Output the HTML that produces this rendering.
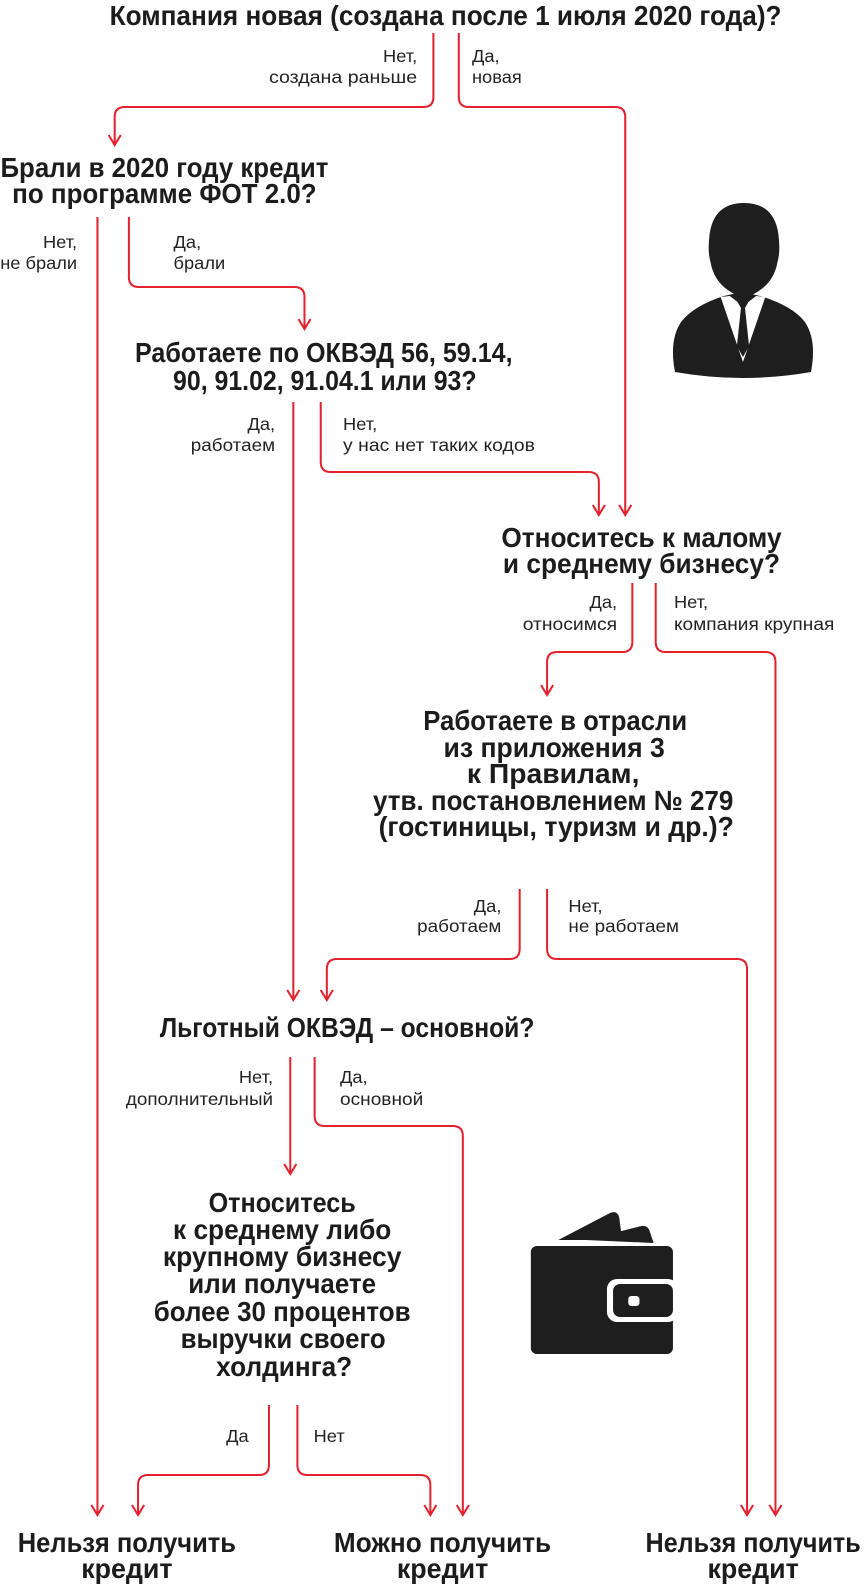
<!DOCTYPE html>
<html><head><meta charset="utf-8"><style>
html,body{margin:0;padding:0;background:#fff;}
svg{display:block;}
.h{font-family:"Liberation Sans",sans-serif;font-weight:bold;font-size:28px;fill:#1c1c1c;text-anchor:middle;}
.l{font-family:"Liberation Sans",sans-serif;font-size:18px;fill:#222;}
.r{text-anchor:end;}
.ln{fill:none;stroke:#e3222f;stroke-width:2;}
</style></head><body>
<svg width="864" height="1594" viewBox="0 0 864 1594" xmlns="http://www.w3.org/2000/svg">
<g transform="scale(1.015,1)">
<g class="ln">
<path d="M427 33V97Q427 107 417 107H123Q113 107 113 117V145"/>
<path d="M452 33V97Q452 107 462 107H606Q616 107 616 117V515"/>
<path d="M96 217V1515"/>
<path d="M127 217V277Q127 287 137 287H290Q300 287 300 297V329"/>
<path d="M289 402V1000"/>
<path d="M316 402V462Q316 472 326 472H580Q590 472 590 482V515"/>
<path d="M623 583V642Q623 652 613 652H549Q539 652 539 662V695"/>
<path d="M646 583V642Q646 652 656 652H754Q764 652 764 662V1515"/>
<path d="M512 889V949Q512 959 502 959H332Q322 959 322 969V1000"/>
<path d="M539 889V949Q539 959 549 959H726Q736 959 736 969V1515"/>
<path d="M286 1057V1174"/>
<path d="M310 1057V1116Q310 1126 320 1126H446Q456 1126 456 1136V1515"/>
<path d="M265 1405V1465Q265 1475 255 1475H146Q136 1475 136 1485V1515"/>
<path d="M293 1405V1465Q293 1475 303 1475H414Q424 1475 424 1485V1515"/>
<path d="M107 135L113 145L119 135M610 505L616 515L622 505M90 1505L96 1515L102 1505M294 319L300 329L306 319M283 990L289 1000L295 990M584 505L590 515L596 505M533 685L539 695L545 685M758 1505L764 1515L770 1505M316 990L322 1000L328 990M730 1505L736 1515L742 1505M280 1164L286 1174L292 1164M450 1505L456 1515L462 1505M130 1505L136 1515L142 1505M418 1505L424 1515L430 1505"/>
</g>

<text class="h" x="439" y="25" textLength="662" lengthAdjust="spacingAndGlyphs">Компания новая (создана после 1 июля 2020 года)?</text>
<text class="h" x="162" y="177" textLength="323" lengthAdjust="spacingAndGlyphs">Брали в 2020 году кредит</text>
<text class="h" x="162" y="203" textLength="300" lengthAdjust="spacingAndGlyphs">по программе ФОТ 2.0?</text>
<text class="h" x="319" y="362" textLength="372" lengthAdjust="spacingAndGlyphs">Работаете по ОКВЭД 56, 59.14,</text>
<text class="h" x="320" y="390" textLength="299" lengthAdjust="spacingAndGlyphs">90, 91.02, 91.04.1 или 93?</text>
<text class="h" x="632" y="547" textLength="276" lengthAdjust="spacingAndGlyphs">Относитесь к малому</text>
<text class="h" x="632" y="573" textLength="273" lengthAdjust="spacingAndGlyphs">и среднему бизнесу?</text>
<text class="h" x="547" y="730" textLength="260" lengthAdjust="spacingAndGlyphs">Работаете в отрасли</text>
<text class="h" x="546" y="757" textLength="218" lengthAdjust="spacingAndGlyphs">из приложения 3</text>
<text class="h" x="545" y="783" textLength="170" lengthAdjust="spacingAndGlyphs">к Правилам,</text>
<text class="h" x="545" y="810" textLength="355" lengthAdjust="spacingAndGlyphs">утв. постановлением № 279</text>
<text class="h" x="548" y="836" textLength="350" lengthAdjust="spacingAndGlyphs">(гостиницы, туризм и др.)?</text>
<text class="h" x="342" y="1037" textLength="369" lengthAdjust="spacingAndGlyphs">Льготный ОКВЭД – основной?</text>
<text class="h" x="278" y="1212" textLength="145" lengthAdjust="spacingAndGlyphs">Относитесь</text>
<text class="h" x="278" y="1239" textLength="215" lengthAdjust="spacingAndGlyphs">к среднему либо</text>
<text class="h" x="278" y="1266" textLength="235" lengthAdjust="spacingAndGlyphs">крупному бизнесу</text>
<text class="h" x="278" y="1293" textLength="185" lengthAdjust="spacingAndGlyphs">или получаете</text>
<text class="h" x="278" y="1321" textLength="253" lengthAdjust="spacingAndGlyphs">более 30 процентов</text>
<text class="h" x="279" y="1348" textLength="202" lengthAdjust="spacingAndGlyphs">выручки своего</text>
<text class="h" x="280" y="1376" textLength="134" lengthAdjust="spacingAndGlyphs">холдинга?</text>
<text class="h" x="125" y="1552" textLength="215" lengthAdjust="spacingAndGlyphs">Нельзя получить</text>
<text class="h" x="125" y="1578" textLength="90" lengthAdjust="spacingAndGlyphs">кредит</text>
<text class="h" x="436" y="1552" textLength="214" lengthAdjust="spacingAndGlyphs">Можно получить</text>
<text class="h" x="436" y="1578" textLength="90" lengthAdjust="spacingAndGlyphs">кредит</text>
<text class="h" x="742" y="1552" textLength="212" lengthAdjust="spacingAndGlyphs">Нельзя получить</text>
<text class="h" x="742" y="1578" textLength="90" lengthAdjust="spacingAndGlyphs">кредит</text>

<text class="l r" x="411" y="62">Нет,</text>
<text class="l r" x="411" y="83" textLength="146" lengthAdjust="spacingAndGlyphs">создана раньше</text>
<text class="l" x="465" y="62">Да,</text>
<text class="l" x="465" y="83">новая</text>
<text class="l r" x="76" y="248">Нет,</text>
<text class="l r" x="76" y="269">не брали</text>
<text class="l" x="171" y="248">Да,</text>
<text class="l" x="171" y="269">брали</text>
<text class="l r" x="271" y="430">Да,</text>
<text class="l r" x="271" y="451" textLength="83" lengthAdjust="spacingAndGlyphs">работаем</text>
<text class="l" x="338" y="430">Нет,</text>
<text class="l" x="338" y="451" textLength="189" lengthAdjust="spacingAndGlyphs">у нас нет таких кодов</text>
<text class="l r" x="608" y="608">Да,</text>
<text class="l r" x="608" y="630" textLength="93" lengthAdjust="spacingAndGlyphs">относимся</text>
<text class="l" x="664" y="608">Нет,</text>
<text class="l" x="664" y="630" textLength="158" lengthAdjust="spacingAndGlyphs">компания крупная</text>
<text class="l r" x="494" y="912">Да,</text>
<text class="l r" x="494" y="932" textLength="83" lengthAdjust="spacingAndGlyphs">работаем</text>
<text class="l" x="560" y="912">Нет,</text>
<text class="l" x="560" y="932" textLength="109" lengthAdjust="spacingAndGlyphs">не работаем</text>
<text class="l r" x="269" y="1083">Нет,</text>
<text class="l r" x="269" y="1105" textLength="145" lengthAdjust="spacingAndGlyphs">дополнительный</text>
<text class="l" x="335" y="1083">Да,</text>
<text class="l" x="335" y="1105" textLength="82" lengthAdjust="spacingAndGlyphs">основной</text>
<text class="l r" x="245" y="1442">Да</text>
<text class="l" x="309" y="1442">Нет</text>

<g transform="translate(-9,0)">
<g fill="#1e1e1e">
<path d="M674 372Q668 340 680 322Q692 306 722 296L740 292L758 296Q790 306 802 322Q814 340 808 372Q741 384 674 372Z"/>
<path d="M742 203Q712 203 708 235Q706 252 709 262Q712 280 726 290Q736 297 742 297Q748 297 758 290Q772 280 775 262Q778 252 776 235Q772 203 742 203Z"/>
</g>
<path d="M719 297L741 362L763 297L754 296L741 306L728 296Z" fill="#fff"/>
<path d="M734 299L748 299L743 308L747 346L741 357L735 346L739 308Z" fill="#1e1e1e"/>
</g>

<g transform="translate(-8,0)">
<g fill="#1e1e1e">
<path d="M558 1240L609 1213Q616 1210 618 1217L621 1240Z"/>
<path d="M585 1240L640 1226Q646 1225 648 1231L652 1243Z"/>
<rect x="531" y="1246" width="140" height="108" rx="6"/>
</g>
<rect x="606" y="1279" width="70" height="43" rx="10" fill="#fff"/>
<rect x="612" y="1284" width="59" height="33" rx="7" fill="#1e1e1e"/>
<rect x="627" y="1296" width="11" height="10" rx="3" fill="#fff"/>
</g>
</g>
</svg>
</body></html>
